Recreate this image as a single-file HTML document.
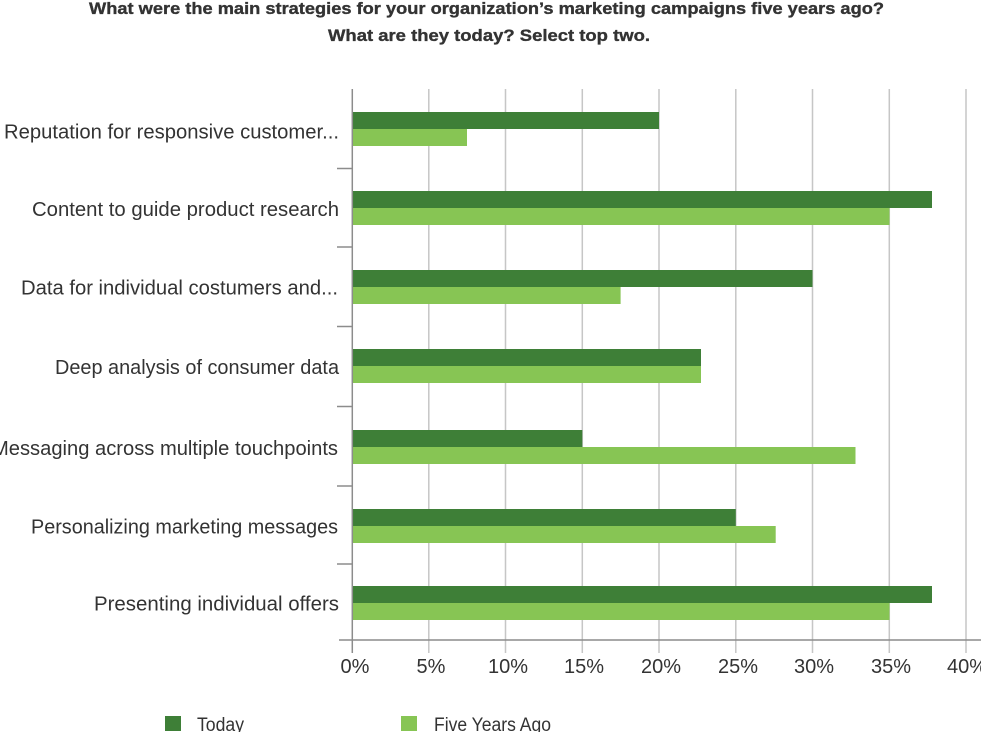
<!DOCTYPE html>
<html>
<head>
<meta charset="utf-8">
<style>
  html,body{margin:0;padding:0;background:#fff;}
  body{width:981px;height:732px;overflow:hidden;}
  svg{display:block;}
  .t{font-family:"Liberation Sans",sans-serif;fill:#333;}
</style>
</head>
<body>
<svg width="981" height="732" viewBox="0 0 981 732" xmlns="http://www.w3.org/2000/svg">
  <!-- Title -->
  <text class="t" x="89" y="14" font-size="17" font-weight="bold" stroke="#333" stroke-width="0.35" textLength="795" lengthAdjust="spacingAndGlyphs">What were the main strategies for your organization’s marketing campaigns five years ago?</text>
  <text class="t" x="328" y="41" font-size="17" font-weight="bold" stroke="#333" stroke-width="0.35" textLength="322" lengthAdjust="spacingAndGlyphs">What are they today? Select top two.</text>

  <!-- Gridlines -->
  <g stroke="#c6c6c6" stroke-width="1.5">
    <line x1="428.8" y1="89" x2="428.8" y2="653"/>
    <line x1="505.5" y1="89" x2="505.5" y2="653"/>
    <line x1="582.3" y1="89" x2="582.3" y2="653"/>
    <line x1="659" y1="89" x2="659" y2="653"/>
    <line x1="735.8" y1="89" x2="735.8" y2="653"/>
    <line x1="812.5" y1="89" x2="812.5" y2="653"/>
    <line x1="889.3" y1="89" x2="889.3" y2="653"/>
    <line x1="966" y1="89" x2="966" y2="653"/>
  </g>

  <!-- Bars -->
  <g>
    <rect x="352" y="112" width="307" height="17" fill="#3e7f37"/>
    <rect x="352" y="129" width="115" height="17" fill="#87c554"/>

    <rect x="352" y="191" width="580" height="17" fill="#3e7f37"/>
    <rect x="352" y="208" width="537.5" height="17" fill="#87c554"/>

    <rect x="352" y="270" width="460.5" height="17" fill="#3e7f37"/>
    <rect x="352" y="287" width="268.6" height="17" fill="#87c554"/>

    <rect x="352" y="349" width="349" height="17" fill="#3e7f37"/>
    <rect x="352" y="366" width="349" height="17" fill="#87c554"/>

    <rect x="352" y="430" width="230.3" height="17" fill="#3e7f37"/>
    <rect x="352" y="447" width="503.5" height="17" fill="#87c554"/>

    <rect x="352" y="509" width="383.8" height="17" fill="#3e7f37"/>
    <rect x="352" y="526" width="423.7" height="17" fill="#87c554"/>

    <rect x="352" y="586" width="580" height="17" fill="#3e7f37"/>
    <rect x="352" y="603" width="537.5" height="17" fill="#87c554"/>
  </g>

  <!-- Axes -->
  <g stroke="#8c8c8c" stroke-width="1.5">
    <line x1="352.3" y1="89" x2="352.3" y2="653"/>
    <line x1="339" y1="640" x2="981" y2="640"/>
    <line x1="337" y1="168.5" x2="352" y2="168.5"/>
    <line x1="337" y1="247" x2="352" y2="247"/>
    <line x1="337" y1="326.5" x2="352" y2="326.5"/>
    <line x1="337" y1="406.5" x2="352" y2="406.5"/>
    <line x1="337" y1="486" x2="352" y2="486"/>
    <line x1="337" y1="564" x2="352" y2="564"/>
  </g>

  <!-- Category labels -->
  <g class="t" font-size="20" text-anchor="start">
    <text class="t" x="4" y="138.5" textLength="335" lengthAdjust="spacingAndGlyphs">Reputation for responsive customer...</text>
    <text class="t" x="32" y="216" textLength="307" lengthAdjust="spacingAndGlyphs">Content to guide product research</text>
    <text class="t" x="21" y="294.5" textLength="317" lengthAdjust="spacingAndGlyphs">Data for individual costumers and...</text>
    <text class="t" x="55" y="374" textLength="284" lengthAdjust="spacingAndGlyphs">Deep analysis of consumer data</text>
    <text class="t" x="-8" y="455" textLength="346" lengthAdjust="spacingAndGlyphs">Messaging across multiple touchpoints</text>
    <text class="t" x="31" y="533.5" textLength="307" lengthAdjust="spacingAndGlyphs">Personalizing marketing messages</text>
    <text class="t" x="94" y="610.5" textLength="245" lengthAdjust="spacingAndGlyphs">Presenting individual offers</text>
  </g>

  <!-- X tick labels -->
  <g class="t" font-size="20" text-anchor="middle">
    <text x="355" y="673">0%</text>
    <text x="431" y="673">5%</text>
    <text x="508" y="673">10%</text>
    <text x="584" y="673">15%</text>
    <text x="661" y="673">20%</text>
    <text x="738" y="673">25%</text>
    <text x="814" y="673">30%</text>
    <text x="891" y="673">35%</text>
    <text x="967" y="673">40%</text>
  </g>

  <!-- Legend -->
  <rect x="165" y="716" width="16" height="15" fill="#3e7f37"/>
  <text class="t" x="197" y="731" font-size="19" textLength="47" lengthAdjust="spacingAndGlyphs">Today</text>
  <rect x="401" y="716" width="16" height="15" fill="#87c554"/>
  <text class="t" x="434" y="731" font-size="19" textLength="117" lengthAdjust="spacingAndGlyphs">Five Years Ago</text>
</svg>
</body>
</html>
